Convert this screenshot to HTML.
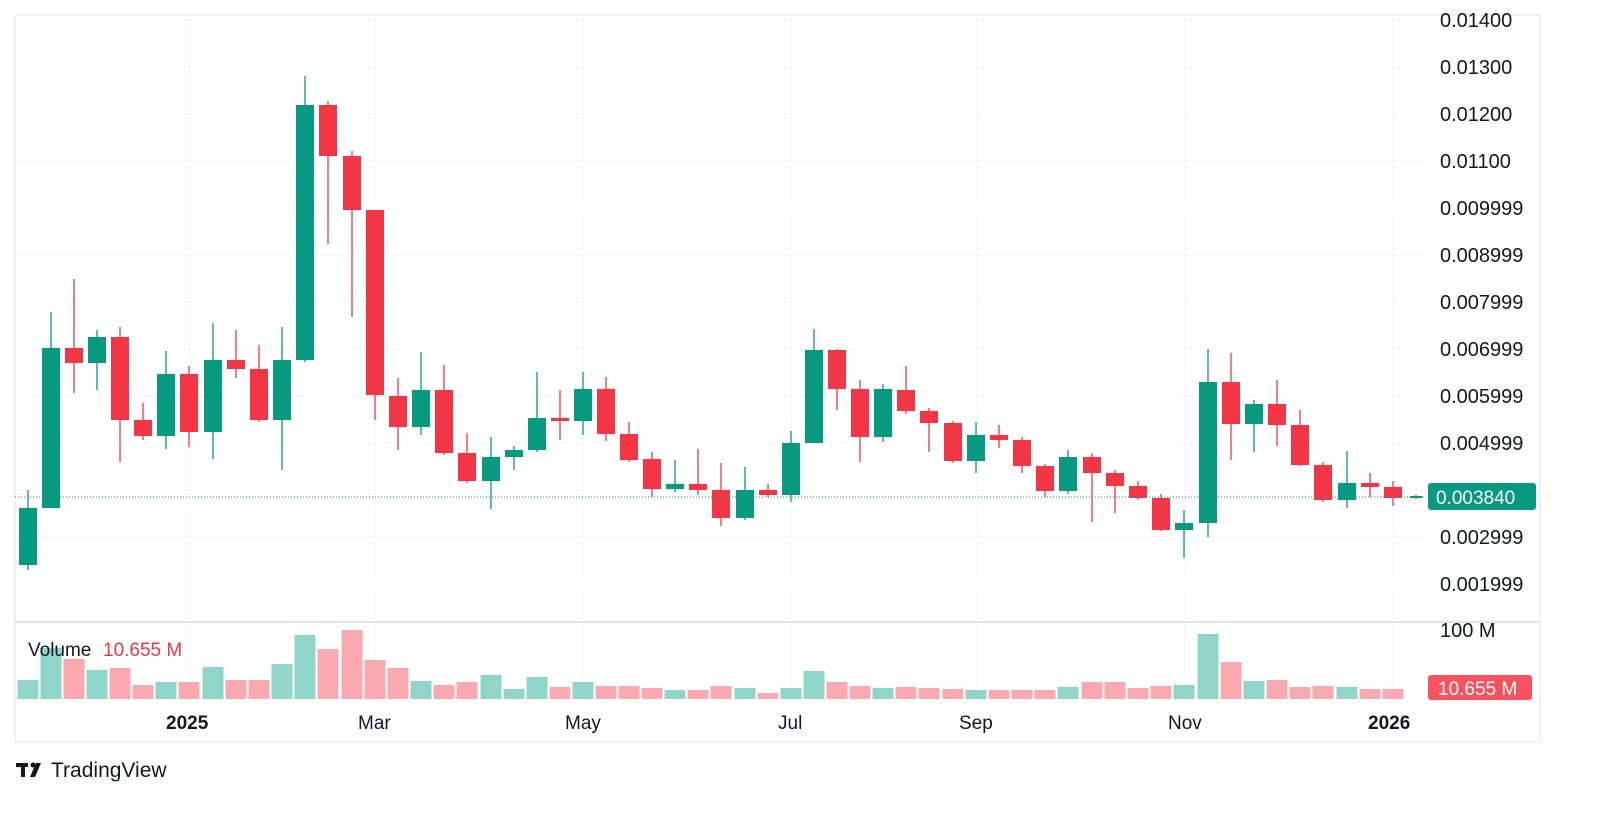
<!DOCTYPE html>
<html><head><meta charset="utf-8"><style>
body{margin:0;background:#fff;width:1600px;height:813px;overflow:hidden;font-family:"Liberation Sans",sans-serif;}
svg text{font-family:"Liberation Sans",sans-serif;}
</style></head><body>
<svg id="s" width="1600" height="813" xmlns="http://www.w3.org/2000/svg">
<rect x="15" y="15" width="1525" height="727" fill="none" stroke="#e0e3eb"/>
<g stroke="#f0f3fa" stroke-width="1">
<line x1="15" x2="1425" y1="20" y2="20"/><line x1="15" x2="1425" y1="67" y2="67"/><line x1="15" x2="1425" y1="114" y2="114"/><line x1="15" x2="1425" y1="161" y2="161"/><line x1="15" x2="1425" y1="208" y2="208"/><line x1="15" x2="1425" y1="255" y2="255"/><line x1="15" x2="1425" y1="302" y2="302"/><line x1="15" x2="1425" y1="349" y2="349"/><line x1="15" x2="1425" y1="396" y2="396"/><line x1="15" x2="1425" y1="443" y2="443"/><line x1="15" x2="1425" y1="490" y2="490"/><line x1="15" x2="1425" y1="537" y2="537"/><line x1="15" x2="1425" y1="584" y2="584"/>
<line x1="190" x2="190" y1="15" y2="700"/><line x1="375" x2="375" y1="15" y2="700"/><line x1="583" x2="583" y1="15" y2="700"/><line x1="791" x2="791" y1="15" y2="700"/><line x1="977" x2="977" y1="15" y2="700"/><line x1="1185" x2="1185" y1="15" y2="700"/><line x1="1393" x2="1393" y1="15" y2="700"/>
</g>
<line x1="15" x2="1540" y1="622" y2="622" stroke="#e0e3eb" stroke-width="2"/>
<g id="c"></g>
<line x1="15" x2="1425" y1="497" y2="497" stroke="#089981" stroke-dasharray="1,2"/>
<g font-size="20" fill="#131722">
<text x="1440" y="27">0.01400</text><text x="1440" y="74">0.01300</text><text x="1440" y="121">0.01200</text><text x="1440" y="168">0.01100</text><text x="1440" y="215">0.009999</text><text x="1440" y="262">0.008999</text><text x="1440" y="309">0.007999</text><text x="1440" y="356">0.006999</text><text x="1440" y="403">0.005999</text><text x="1440" y="450">0.004999</text><text x="1440" y="544">0.002999</text><text x="1440" y="591">0.001999</text>
<text x="1440" y="637">100 M</text>
</g>
<g font-size="19" fill="#131722">
<text x="28" y="656">Volume</text>
<text x="166" y="729" font-weight="bold">2025</text><text x="358" y="729">Mar</text><text x="565" y="729">May</text><text x="778" y="729">Jul</text><text x="959" y="729">Sep</text><text x="1168" y="729">Nov</text><text x="1368" y="729" font-weight="bold">2026</text>
</g>
<text x="103" y="656" font-size="19" fill="#f23645">10.655 M</text>
<rect x="1428" y="483" width="108" height="27" rx="3" fill="#089981"/>
<text x="1436" y="504" font-size="19" fill="#fff">0.003840</text>
<rect x="1428" y="675" width="104" height="25" rx="3" fill="#f7525f"/>
<text x="1438" y="695" font-size="19" fill="#fff">10.655 M</text>
<g fill="#131722"><rect x="16" y="763" width="12" height="4"/><rect x="21" y="763" width="4" height="14"/><circle cx="33" cy="765" r="2.5"/><polygon points="36,763 41,763 35,777 30,777"/></g>
<text x="51" y="777" font-size="21" fill="#131722">TradingView</text>
</svg>
<script>
var C=[[28,'g',508,565,490,570],[51,'g',348,508,312,508],[74,'r',348,363,279,393],[97,'g',337,363,330,390],[120,'r',337,420,327,462],[143,'r',420,436,403,440],[166,'g',374,436,351,449],[189,'r',374,432,366,447],[213,'g',360,432,323,459],[236,'r',360,369,330,378],[259,'r',369,420,345,422],[282,'g',360,420,327,470],[305,'g',105,360,76,362],[328,'r',105,156,101,244],[352,'r',156,210,151,317],[375,'r',210,395,210,420],[398,'r',396,427,378,450],[421,'g',390,427,352,435],[444,'r',390,453,365,455],[467,'r',453,481,433,483],[491,'g',457,481,437,509],[514,'g',450,457,446,470],[537,'g',418,450,372,452],[560,'r',418,421,390,440],[583,'g',389,421,372,435],[606,'r',389,434,377,441],[629,'r',434,460,422,462],[652,'r',459,489,452,497],[675,'g',484,489,460,492],[698,'r',484,490,449,495],[721,'r',490,518,463,526],[745,'g',490,518,467,520],[768,'r',490,495,484,497],[791,'g',443,495,431,502],[814,'g',350,443,329,443],[837,'r',350,389,349,410],[860,'r',389,437,380,462],[883,'g',389,437,384,442],[906,'r',390,411,366,414],[929,'r',411,423,408,452],[953,'r',423,461,421,463],[976,'g',435,461,422,473],[999,'r',435,440,425,448],[1022,'r',440,466,437,473],[1045,'r',466,491,464,497],[1068,'g',457,491,450,494],[1092,'r',457,473,453,522],[1115,'r',473,486,470,513],[1138,'r',486,498,481,500],[1161,'r',498,530,494,531],[1184,'g',523,530,510,558],[1208,'g',382,523,349,537],[1231,'r',382,424,353,460],[1254,'g',404,424,400,452],[1277,'r',404,425,380,446],[1300,'r',425,465,410,466],[1323,'r',465,500,462,502],[1347,'g',483,500,451,508],[1370,'r',483,487,473,497],[1393,'r',487,498,481,506],[1416,'g',496,498,495,499]];
var V=[680,648,659,670,668,685,682,682,667,680,680,664,635,649,630,660,668,681,685,682,675,689,677,687,682,686,686,688,690,690,686,688,693,688,671,682,686,688,687,688,689,690,690,690,690,687,682,682,688,686,685,634,662,681,680,687,686,687,689,689];
var h='';
C.forEach(function(c,i){var col=c[1]=='g'?'#089981':'#f23645';var w=i==60?12:18;
h+='<line x1="'+c[0]+'" x2="'+c[0]+'" y1="'+c[4]+'" y2="'+c[5]+'" stroke="'+col+'" stroke-width="1.3"/>';
h+='<rect x="'+(c[0]-w/2)+'" y="'+c[2]+'" width="'+w+'" height="'+Math.max(1,c[3]-c[2])+'" fill="'+col+'"/>';
if(i<V.length){var vc=c[1]=='g'?'#8fd6c9':'#faa9b1';h+='<rect x="'+(c[0]-10.5)+'" y="'+V[i]+'" width="21" height="'+(699-V[i])+'" fill="'+vc+'"/>';}
});
document.getElementById('c').innerHTML=h;
</script>
</body></html>
